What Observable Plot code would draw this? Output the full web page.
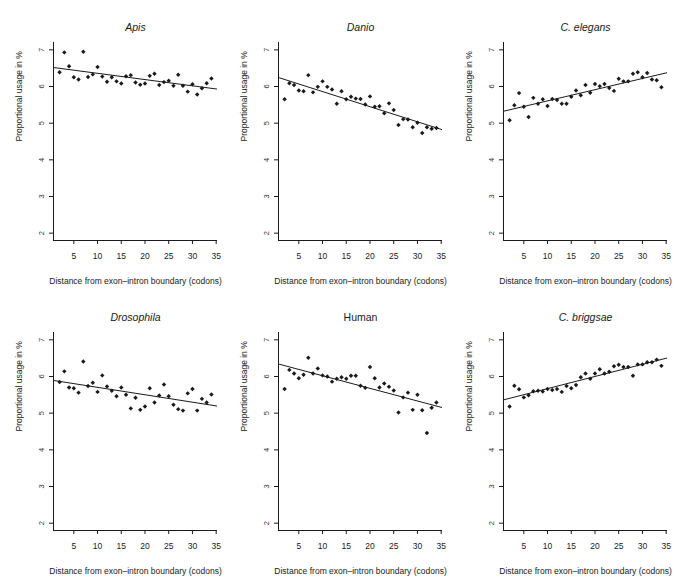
<!DOCTYPE html>
<html><head><meta charset="utf-8">
<script src="https://cdn.jsdelivr.net/npm/d3@7"></script>
<script src="https://cdn.jsdelivr.net/npm/@observablehq/plot@0.6"></script>
<style>
body{margin:0;background:#fff;}
#wrap{position:relative;width:685px;height:587px;background:#fff;font-family:"Liberation Sans",Arial,Helvetica,sans-serif;}
.panel{position:absolute;}
</style></head><body><div id="wrap"></div>
<script>
// Distance from exon-intron boundary (codons)
const distance = [2,3,4,5,6,7,8,9,10,11,12,13,14,15,16,17,18,19,20,21,22,23,24,25,26,27,28,29,30,31,32,33,34];

const apis = [6.39,6.93,6.55,6.25,6.19,6.95,6.26,6.33,6.53,6.27,6.13,6.25,6.14,6.08,6.28,6.31,6.11,6.05,6.08,6.29,6.35,6.04,6.12,6.16,6.02,6.32,6.02,5.86,6.06,5.78,5.95,6.09,6.22];
const danio = [5.65,6.09,6.04,5.89,5.87,6.31,5.84,5.99,6.14,5.99,5.92,5.53,5.87,5.65,5.72,5.67,5.66,5.51,5.73,5.45,5.46,5.27,5.54,5.36,4.95,5.11,5.10,4.89,5.01,4.73,4.89,4.85,4.87];
const elegans = [5.08,5.49,5.82,5.45,5.17,5.69,5.53,5.65,5.47,5.66,5.63,5.53,5.53,5.72,5.89,5.76,6.04,5.83,6.07,6.01,6.07,5.96,5.88,6.21,6.14,6.14,6.35,6.39,6.25,6.37,6.19,6.17,5.98];
const drosophila = [5.85,6.14,5.70,5.68,5.56,6.41,5.74,5.83,5.58,6.03,5.73,5.61,5.46,5.70,5.50,5.13,5.42,5.09,5.18,5.68,5.29,5.48,5.78,5.46,5.23,5.11,5.07,5.54,5.66,5.07,5.39,5.29,5.51];
const human = [5.66,6.18,6.08,5.95,6.05,6.51,6.08,6.22,6.03,6.00,5.86,5.94,5.98,5.94,6.02,6.02,5.75,5.69,6.26,5.95,5.70,5.81,5.72,5.62,5.02,5.43,5.56,5.09,5.50,5.08,4.46,5.15,5.29];
const briggsae = [5.18,5.75,5.65,5.43,5.49,5.60,5.61,5.59,5.66,5.63,5.66,5.58,5.74,5.68,5.77,5.98,6.08,5.94,6.08,6.20,6.08,6.13,6.28,6.32,6.26,6.26,6.02,6.33,6.33,6.39,6.39,6.46,6.29];

const titles = ["Apis","Danio","C. elegans","Drosophila","Human","C. briggsae"];
const italics = [true,true,true,true,false,true];
const series = [apis,danio,elegans,drosophila,human,briggsae];

const xTicks = [5,10,15,20,25,30,35];
const yTicks = [2,3,4,5,6,7];
const yLabel = "Proportional usage in %";
const xLabel = "Distance from exon\u2013intron boundary (codons)";

// layout (svg offsets)
const offsets = [[0,0],[225,0],[450,0],[0,290],[225,290],[450,290]];

const xDom = [0.72, 35.28];
const yDom = [1.8, 7.2];
const ink = "#1a1a1a";

const wrap = document.getElementById("wrap");
series.forEach((vals, k) => {
  const data = distance.map((x, i) => ({x, y: vals[i]}));
  const mx = d3.mean(data, d => d.x), my = d3.mean(data, d => d.y);
  const b = d3.sum(data, d => (d.x - mx) * (d.y - my)) / d3.sum(data, d => (d.x - mx) ** 2);
  const a = my - b * mx;
  const fit = xDom.map(x => ({x, y: a + b * x}));
  const chart = Plot.plot({
    width: 228, height: 290,
    marginLeft: 53, marginRight: 11, marginTop: 42, marginBottom: 50,
    style: {fontFamily: '"Liberation Sans",Arial,Helvetica,sans-serif', color: ink, background: "transparent", overflow: "visible"},
    x: {domain: xDom},
    y: {domain: yDom},
    marks: [
      Plot.ruleX([xDom[0]], {stroke: ink, strokeWidth: 1}),
      Plot.ruleY([yDom[0]], {stroke: ink, strokeWidth: 1}),
      Plot.axisX({ticks: xTicks, tickFormat: d => String(d), tickSize: 4, tickPadding: 8, label: null, fontSize: 8.5, stroke: ink, fill: ink}),
      Plot.axisY({ticks: yTicks, tickFormat: d => String(d), tickSize: 4, tickPadding: 6, tickRotate: -90, label: null, fontSize: 7.5, stroke: ink, fill: "#333"}),
      Plot.line(fit, {x: "x", y: "y", stroke: ink, strokeWidth: 1, clip: true}),
      Plot.dot(data, {x: "x", y: "y", symbol: "diamond2", r: 2, fill: ink, stroke: "none"}),
      Plot.text([titles[k]], {text: d => d, frameAnchor: "top", dy: -19, fontSize: 10.5, fontStyle: italics[k] ? "italic" : "normal", fill: ink}),
      Plot.text([yLabel], {text: d => d, frameAnchor: "left", dx: -34, rotate: -90, fontSize: 8.5, fill: ink}),
      Plot.text([xLabel], {text: d => d, frameAnchor: "bottom", dy: 43, fontSize: 8.5, fill: ink})
    ]
  });
  chart.classList.add("panel");
  chart.style.left = offsets[k][0] + "px";
  chart.style.top = offsets[k][1] + "px";
  wrap.appendChild(chart);
});
</script></body></html>
